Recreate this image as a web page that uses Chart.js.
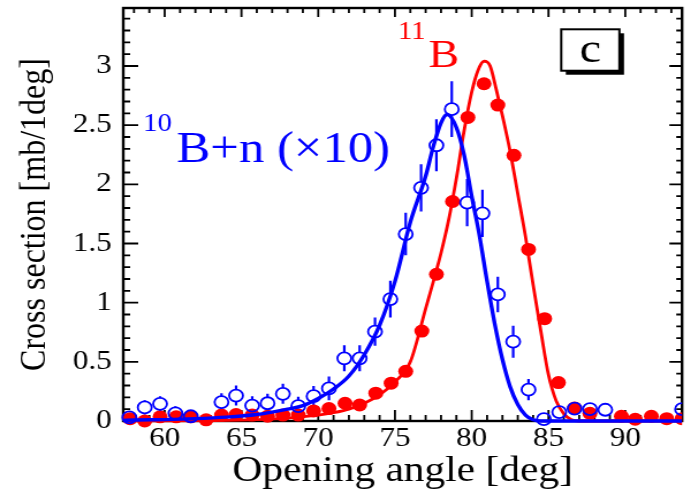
<!DOCTYPE html>
<html>
<head>
<meta charset="utf-8">
<script src="https://cdn.jsdelivr.net/npm/chart.js@4.4.1/dist/chart.umd.min.js"></script>
<style>
    html, body { margin: 0; padding: 0; background: #fff; overflow: hidden; }
    /* the plot is drawn 600 wide and widened to the page */
    #wrap { width: 600px; height: 492px; transform: scaleX(1.1517); transform-origin: 0 0; }
</style>
</head>
<body>
<div id="wrap"><canvas id="chartCross" width="600" height="492"></canvas></div>
<script>
// 11B data points
const redX = [57.75, 58.7, 59.7, 60.75, 61.7, 62.7, 63.7, 64.65, 65.7, 66.7, 67.7, 68.7, 69.7, 70.7, 71.75, 72.7,
    73.75, 74.75, 75.7, 76.75, 77.7, 78.75, 79.75, 80.8, 81.7, 82.75, 83.7, 84.75, 85.65, 86.7, 87.7, 89.75,
    90.65, 91.7, 92.7, 93.7];
const redY = [0.02, 0.0, 0.035, 0.035, 0.035, 0.01, 0.05, 0.055, 0.05, 0.04, 0.05, 0.05, 0.085, 0.105, 0.15, 0.135,
    0.235, 0.32, 0.42, 0.76, 1.24, 1.855, 2.565, 2.85, 2.67, 2.245, 1.45, 0.865, 0.325, 0.11, 0.065, 0.04,
    0.015, 0.04, 0.02, 0.02];

// 10B+n data points (x10) and their errors
const blueX = [57.7, 58.7, 59.7, 60.7, 61.7, 63.7, 64.65, 65.7, 66.7, 67.7, 68.7, 69.7, 70.7, 71.7, 72.7, 73.7,
    74.7, 75.7, 76.7, 77.7, 78.7, 79.7, 80.7, 81.7, 82.7, 83.7, 84.7, 85.7, 86.7, 87.7, 88.7, 93.7];
const blueY = [0.03, 0.115, 0.145, 0.065, 0.04, 0.16, 0.215, 0.13, 0.15, 0.23, 0.125, 0.21, 0.275, 0.53, 0.53, 0.755,
    1.03, 1.58, 1.97, 2.33, 2.635, 1.845, 1.755, 1.07, 0.67, 0.265, 0.015, 0.075, 0.105, 0.1, 0.095, 0.1];
const blueErr = [0.04, 0.06, 0.065, 0.06, 0.05, 0.075, 0.085, 0.08, 0.08, 0.085, 0.08, 0.085, 0.1, 0.11, 0.11, 0.12,
    0.155, 0.18, 0.2, 0.22, 0.235, 0.2, 0.2, 0.15, 0.135, 0.09, 0.03, 0.04, 0.055, 0.04, 0.03, 0.04];

// fitted curves
const redFitX = [57.3, 60, 63, 66, 68, 70, 71, 72, 73, 74, 75, 76, 77, 78, 78.5, 79, 79.5, 80, 80.4, 80.8, 81.2, 81.6,
    82, 82.5, 83, 83.5, 84, 84.5, 85, 85.5, 86, 86.5, 87, 93.7];
const redFitY = [0, 0.001, 0.004, 0.012, 0.025, 0.05, 0.07, 0.1, 0.15, 0.22, 0.33, 0.5, 0.95, 1.42, 1.7, 2.05, 2.45, 2.78,
    2.96, 3.04, 3.0, 2.8, 2.58, 2.28, 1.92, 1.56, 1.15, 0.76, 0.39, 0.17, 0.06, 0.01, 0, 0];
const blueFitX = [57.3, 58, 60, 62, 64, 66, 67, 68, 69, 70, 71, 72, 73, 74, 75, 76, 77, 77.5, 78, 78.4, 79, 79.5, 80,
    80.5, 81, 81.5, 82, 82.5, 83, 83.5, 84, 84.5, 93.7];
const blueFitY = [0.005, 0.008, 0.012, 0.02, 0.033, 0.055, 0.075, 0.1, 0.13, 0.19, 0.27, 0.38, 0.56, 0.81, 1.18, 1.68,
    2.07, 2.32, 2.52, 2.59, 2.48, 2.25, 1.9, 1.57, 1.18, 0.82, 0.52, 0.29, 0.14, 0.05, 0.01, 0, 0];

const xTickLabels = [60, 65, 70, 75, 80, 85, 90];
const yTickLabels = [0, 0.5, 1, 1.5, 2, 2.5, 3];

const BLUE = '#0000ff';
const RED = '#ff0000';
const serif = "'Liberation Serif', 'Times New Roman', serif";

function pairs(xs, ys) {
    return xs.map(function (v, i) { return { x: v, y: ys[i] }; });
}

// frame with inward ticks on all four sides
const frameTicks = {
    id: 'frameTicks',
    beforeDatasetsDraw: function (chart) {
        const ctx = chart.ctx, a = chart.chartArea;
        const x = chart.scales.x, y = chart.scales.y;
        ctx.save();
        ctx.strokeStyle = '#000';
        ctx.lineWidth = 2.4;
        ctx.strokeRect(a.left, a.top, a.right - a.left, a.bottom - a.top);
        ctx.lineWidth = 1.8;
        ctx.beginPath();
        for (let v = 58; v <= 93; v++) {
            const px = x.getPixelForValue(v);
            const major = v % 5 === 0;
            ctx.moveTo(px, a.bottom); ctx.lineTo(px, a.bottom - (major ? 11 : 6));
            ctx.moveTo(px, a.top); ctx.lineTo(px, a.top + (major ? 9 : 5));
        }
        for (let i = 1; i <= 34; i++) {
            const py = y.getPixelForValue(i / 10);
            const major = i % 5 === 0;
            ctx.moveTo(a.left, py); ctx.lineTo(a.left + (major ? 13 : 6), py);
            ctx.moveTo(a.right, py); ctx.lineTo(a.right - (major ? 11 : 5), py);
        }
        ctx.stroke();
        ctx.restore();
    }
};

// vertical error bars on the open circles, stopping at the marker
const errorBars = {
    id: 'errorBars',
    beforeDatasetsDraw: function (chart) {
        const ctx = chart.ctx, a = chart.chartArea;
        const x = chart.scales.x, y = chart.scales.y;
        const r = 6;
        ctx.save();
        ctx.beginPath();
        ctx.rect(a.left, a.top, a.right - a.left, a.bottom - a.top);
        ctx.clip();
        ctx.strokeStyle = BLUE;
        ctx.lineWidth = 2.2;
        ctx.beginPath();
        blueX.forEach(function (xv, i) {
            const px = x.getPixelForValue(xv);
            const py = y.getPixelForValue(blueY[i]);
            const top = y.getPixelForValue(blueY[i] + blueErr[i]);
            const bot = y.getPixelForValue(blueY[i] - blueErr[i]);
            if (top < py - r) { ctx.moveTo(px, top); ctx.lineTo(px, py - r); }
            if (bot > py + r) { ctx.moveTo(px, py + r); ctx.lineTo(px, bot); }
        });
        ctx.stroke();
        ctx.restore();
    }
};

// isotope labels and the panel letter
const panelText = {
    id: 'panelText',
    afterDatasetsDraw: function (chart) {
        const ctx = chart.ctx;
        const x = chart.scales.x, y = chart.scales.y;
        ctx.save();
        ctx.textBaseline = 'alphabetic';
        ctx.textAlign = 'left';

        ctx.fillStyle = BLUE;
        ctx.font = '25px ' + serif;
        ctx.fillText('10', x.getPixelForValue(58.6), y.getPixelForValue(2.45));
        ctx.font = '44px ' + serif;
        ctx.fillText('B+n (×10)', x.getPixelForValue(60.77), y.getPixelForValue(2.19));

        ctx.fillStyle = RED;
        ctx.font = '25px ' + serif;
        ctx.fillText('11', x.getPixelForValue(75.19), y.getPixelForValue(3.23));
        ctx.font = '40px ' + serif;
        ctx.fillText('B', x.getPixelForValue(77.18), y.getPixelForValue(2.99));

        const bx0 = x.getPixelForValue(85.83), bx1 = x.getPixelForValue(89.62);
        const by0 = y.getPixelForValue(3.31), by1 = y.getPixelForValue(2.96);
        ctx.fillStyle = '#000';
        ctx.fillRect(bx0 + 4, by0 + 4, bx1 - bx0, by1 - by0);
        ctx.fillStyle = '#fff';
        ctx.fillRect(bx0, by0, bx1 - bx0, by1 - by0);
        ctx.strokeStyle = '#000';
        ctx.lineWidth = 2;
        ctx.strokeRect(bx0, by0, bx1 - bx0, by1 - by0);
        ctx.fillStyle = '#000';
        ctx.textAlign = 'center';
        ctx.font = '42px ' + serif;
        ctx.fillText('c', (bx0 + bx1) / 2, y.getPixelForValue(3.03));
        ctx.restore();
    }
};

const ctxCross = document.getElementById('chartCross');
const edgeClip = { left: 10, top: 0, right: 0, bottom: 10 };

new Chart(ctxCross, {
    type: 'line',
    data: {
        datasets: [{
            label: '10B+n fit',
            data: pairs(blueFitX, blueFitY),
            borderColor: BLUE,
            borderWidth: 3.4,
            pointRadius: 0,
            cubicInterpolationMode: 'monotone',
            clip: edgeClip,
            order: 1
        }, {
            label: '10B+n',
            data: pairs(blueX, blueY),
            showLine: false,
            pointRadius: 6,
            pointBorderWidth: 1.8,
            pointBorderColor: BLUE,
            pointBackgroundColor: 'rgba(0,0,0,0)',
            clip: edgeClip,
            order: 2
        }, {
            label: '11B',
            data: pairs(redX, redY),
            showLine: false,
            pointRadius: 6.5,
            pointBorderWidth: 0,
            pointBorderColor: RED,
            pointBackgroundColor: RED,
            clip: edgeClip,
            order: 3
        }, {
            label: '11B fit',
            data: pairs(redFitX, redFitY),
            borderColor: RED,
            borderWidth: 2.8,
            pointRadius: 0,
            cubicInterpolationMode: 'monotone',
            clip: edgeClip,
            order: 4
        }]
    },
    options: {
        responsive: false,
        animation: false,
        events: [],
        layout: { padding: { left: 0, right: 1, top: 8, bottom: 2 } },
        plugins: { legend: { display: false }, tooltip: { enabled: false } },
        scales: {
            x: {
                type: 'linear',
                min: 57.3,
                max: 93.7,
                grid: { display: false, drawTicks: false },
                border: { display: false },
                afterBuildTicks: function (s) { s.ticks = xTickLabels.map(function (v) { return { value: v }; }); },
                afterFit: function (s) {
                    s.height = 69;
                    s.paddingLeft = 0;
                    s.paddingRight = 0;
                },
                ticks: {
                    font: { family: serif, size: 27, lineHeight: 1.2 },
                    color: '#000',
                    padding: 2,
                    maxRotation: 0,
                    autoSkip: false,
                    callback: function (v) { return String(v); }
                },
                title: {
                    display: true,
                    text: 'Opening angle [deg]',
                    font: { family: serif, size: 36, lineHeight: 1 },
                    color: '#000',
                    padding: { top: 0, bottom: 0 }
                }
            },
            y: {
                min: 0,
                max: 3.49,
                grid: { display: false, drawTicks: false },
                border: { display: false },
                afterBuildTicks: function (s) { s.ticks = yTickLabels.map(function (v) { return { value: v }; }); },
                afterFit: function (s) {
                    s.width = 107;
                    // labels never reach the frame ends, so no extra room above or below
                    s.paddingTop = 0;
                    s.paddingBottom = 0;
                },
                ticks: {
                    font: { family: serif, size: 27 },
                    color: '#000',
                    padding: 10,
                    autoSkip: false,
                    callback: function (v) { return String(v); }
                },
                title: {
                    display: true,
                    text: 'Cross section [mb/1deg]',
                    font: { family: serif, size: 32, lineHeight: 1 },
                    color: '#000',
                    padding: { top: 15, bottom: 0 }
                }
            }
        }
    },
    plugins: [frameTicks, errorBars, panelText]
});
</script>
</body>
</html>
